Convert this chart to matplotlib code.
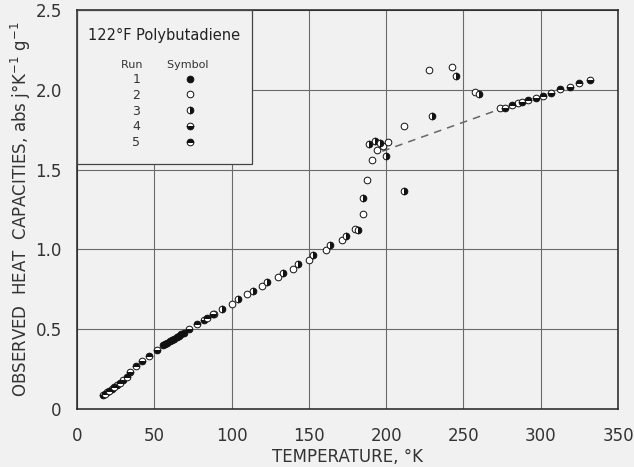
import matplotlib
matplotlib.use("Agg")
import matplotlib.pyplot as plt
from matplotlib.patches import Rectangle

# run 1 (filled)
t_run1 = [55.5, 57.0, 58.5, 60.0, 61.5, 63.0, 64.5, 66.0, 67.5, 69.0]
cp_run1 = [0.398, 0.406, 0.415, 0.423, 0.432, 0.440, 0.449, 0.458, 0.468, 0.478]

# run 2 (open)
t_run2 = [88.6, 100.0, 109.7, 119.8, 129.8, 139.5, 149.9, 161.0, 171.2, 180.0,
          185.2, 187.8, 190.6, 194.2, 198.1, 201.4, 211.7, 227.7, 242.6, 257.4,
          273.6, 285.5]
cp_run2 = [0.595, 0.658, 0.718, 0.773, 0.828, 0.877, 0.934, 0.996, 1.059, 1.128,
           1.220, 1.437, 1.560, 1.620, 1.645, 1.671, 1.773, 2.124, 2.141, 1.988,
           1.886, 1.915]

# run 3 (right half)
t_run3 = [94.0, 104.3, 114.0, 123.2, 133.0, 142.8, 152.7, 163.9, 174.2, 181.8,
          185.0, 188.9, 192.5, 196.2, 199.9, 211.7, 229.4, 245.1, 260.2]
cp_run3 = [0.626, 0.687, 0.741, 0.794, 0.850, 0.906, 0.967, 1.028, 1.084, 1.120,
           1.320, 1.658, 1.679, 1.669, 1.585, 1.366, 1.836, 2.088, 1.976]

# run 4 (bottom half)
t_run4 = [16.5, 19.5, 22.5, 26.0, 30.0, 34.3, 41.8, 51.6, 72.6, 82.4, 87.8,
          276.8, 287.6, 296.7, 306.4, 318.9, 331.8]
cp_run4 = [0.085, 0.105, 0.125, 0.150, 0.180, 0.234, 0.300, 0.372, 0.500, 0.558, 0.593,
           1.886, 1.924, 1.947, 1.982, 2.019, 2.063]

# run 5 (top half)
t_run5 = [18.0, 21.0, 24.0, 28.0, 32.5, 38.1, 46.7, 77.8, 84.0,
          281.6, 291.5, 301.6, 312.4, 324.7]
cp_run5 = [0.095, 0.115, 0.137, 0.165, 0.200, 0.270, 0.333, 0.533, 0.570,
           1.905, 1.936, 1.963, 2.003, 2.040]

# dashed extrapolation
t_dash = [197.5, 274.0]
cp_dash = [1.615, 1.880]

x_ticks = [0, 50, 100, 150, 200, 250, 300, 350]
y_ticks = [0, 0.5, 1.0, 1.5, 2.0, 2.5]
y_labels = ["0", "0.5", "1.0", "1.5", "2.0", "2.5"]

bg = "#f1f1f1"
W, H = 634, 467
fig = plt.figure(figsize=(W / 100, H / 100), dpi=100, facecolor=bg)
ax = fig.add_axes([77 / W, 1 - 409 / H, 541 / W, 399 / H], facecolor=bg)

ax.set_xlim(0, 350)
ax.set_ylim(0, 2.5)
ax.set_xticks(x_ticks)
ax.set_xticklabels([str(v) for v in x_ticks])
ax.set_yticks(y_ticks)
ax.set_yticklabels(y_labels)
ax.tick_params(length=0, labelsize=12, labelcolor="#333333")
ax.tick_params(axis="x", pad=13)
ax.tick_params(axis="y", pad=11)
ax.grid(True, color="#6a6a6a", lw=0.8)
ax.set_axisbelow(True)
for s in ax.spines.values():
    s.set_color("#222222")
    s.set_linewidth(1.1)

ax.set_xlabel("TEMPERATURE, °K", fontsize=12, color="#333333", labelpad=2)
ax.set_ylabel("OBSERVED  HEAT  CAPACITIES, abs j°K$^{-1}$ g$^{-1}$",
              fontsize=12, color="#333333", labelpad=2)

ax.plot(t_dash, cp_dash, ls=(0, (5, 4)), color="#666666", lw=1.1, zorder=2)

mk = dict(ls="none", marker="o", ms=4.8, mew=0.7, mec="#111111",
          markerfacecoloralt="white", zorder=3)
ax.plot(t_run1, cp_run1, mfc="#111111", label="1", **mk)
ax.plot(t_run2, cp_run2, mfc="white", label="2", **mk)
ax.plot(t_run3, cp_run3, mfc="#111111", fillstyle="right", label="3", **mk)
ax.plot(t_run4, cp_run4, mfc="#111111", fillstyle="bottom", label="4", **mk)
ax.plot(t_run5, cp_run5, mfc="#111111", fillstyle="top", label="5", **mk)

# legend panel covering the grid
box = Rectangle((0, 0.614), 0.3235, 0.386, transform=ax.transAxes,
                facecolor=bg, edgecolor="#444444", lw=0.9, zorder=4)
ax.add_patch(box)
ax.text(0.02, 0.935, "122°F Polybutadiene", transform=ax.transAxes,
        fontsize=10.5, color="#222222", va="center", ha="left", zorder=5)

leg = ax.legend(loc="upper left", bbox_to_anchor=(0.06, 0.902), frameon=False,
                markerfirst=False, numpoints=1, handlelength=1.0,
                handletextpad=3.5, labelspacing=0.22, fontsize=9,
                title="Run       Symbol", title_fontsize=8)
leg.set_zorder(6)
for txt in leg.get_texts():
    txt.set_color("#333333")
leg.get_title().set_color("#333333")

fig.savefig("out.png", dpi=100, facecolor=bg)
